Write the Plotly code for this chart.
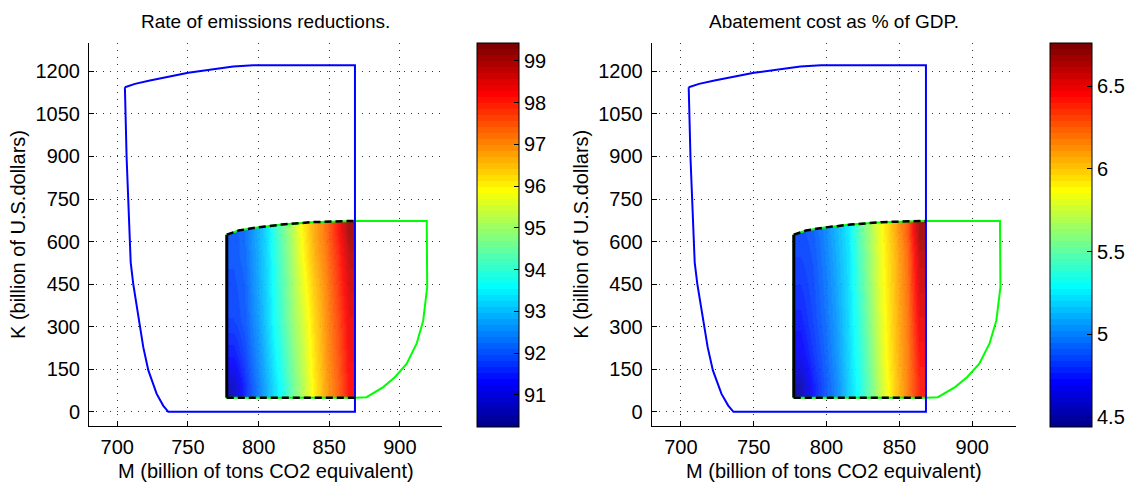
import plotly.graph_objects as go

# ---- data -----------------------------------------------------------------
# grid of the feasible set (cell edges)
m_edges = [778, 786.2, 794.4, 802.5, 810.7, 818.9, 827.1, 835.3, 843.5, 851.6, 859.8, 868]
k_edges = [50, 140, 260, 380, 500, 600, 673]

# rate of emissions reductions (%) on that grid, rows from low K to high K
rate_z = [
    [90.8, 91.6, 92.3, 92.95, 93.6, 94.4, 95.2, 96.1, 96.8, 97.4, 98.2],
    [91.4, 91.85, 92.45, 93.1, 93.8, 94.6, 95.35, 96.2, 96.9, 97.5, 98.3],
    [91.8, 92.05, 92.6, 93.25, 94.0, 94.8, 95.5, 96.3, 96.95, 97.6, 98.4],
    [91.9, 92.1, 92.7, 93.3, 94.1, 94.9, 95.7, 96.45, 97.05, 97.75, 98.6],
    [92.0, 92.2, 92.75, 93.35, 94.2, 95.0, 95.9, 96.65, 97.2, 97.9, 98.8],
    [92.0, 92.25, 92.8, 93.4, 94.3, 95.1, 96.0, 96.75, 97.3, 98.1, 99.1],
]

# abatement cost as % of GDP on the same grid
cost_z = [
    [4.54, 4.74, 4.88, 5.01, 5.18, 5.35, 5.56, 5.80, 6.00, 6.18, 6.40],
    [4.68, 4.80, 4.91, 5.04, 5.20, 5.38, 5.60, 5.83, 6.02, 6.19, 6.45],
    [4.75, 4.84, 4.94, 5.06, 5.21, 5.41, 5.63, 5.85, 6.03, 6.20, 6.50],
    [4.80, 4.86, 4.96, 5.08, 5.22, 5.44, 5.66, 5.87, 6.04, 6.22, 6.55],
    [4.84, 4.88, 4.98, 5.10, 5.23, 5.47, 5.68, 5.88, 6.05, 6.23, 6.60],
    [4.86, 4.90, 5.00, 5.12, 5.25, 5.50, 5.70, 5.90, 6.08, 6.28, 6.68],
]

# viability kernel boundary (blue)
blue_m = [705.4, 712.5, 723.1, 750.2, 782.0, 796.2, 868.2, 868.2, 736.1, 732.5, 727.9,
          722.0, 718.4, 714.9, 711.3, 709.5, 706.6, 705.4]
blue_k = [1144, 1156, 1168, 1195, 1217.5, 1222, 1222, 0, 0, 22, 63,
          146, 228, 334, 451, 527, 898, 1144]

# top edge of the computed set
top_m = [777.5, 786.0, 797.6, 816.5, 837.7, 868.0]
top_k = [624, 639, 649, 660, 668.6, 673]

# second boundary (green)
green_m = top_m + [919.0, 919.3, 916.5, 911.8, 904.7, 896.4, 888.2, 876.4, 868.0, 777.5, 777.5]
green_k = top_k + [673, 439, 322, 240, 169, 122, 87, 51.5, 50, 50, 624]

rate_ticks = [91, 92, 93, 94, 95, 96, 97, 98, 99]
cost_ticks = [4.5, 5, 5.5, 6, 6.5]
m_ticks = [700, 750, 800, 850, 900]
k_ticks = [0, 150, 300, 450, 600, 750, 900, 1050, 1200]


# ---- MATLAB-style jet(64), as a stepped colorscale --------------------------
def jet_steps(n=64):
    m = 16
    u = [i / m for i in range(1, m + 1)] + [1.0] * (m - 1) + [i / m for i in range(m, 0, -1)]
    rows = [[0.0, 0.0, 0.0] for _ in range(n)]
    for j, val in enumerate(u, start=1):
        g = 8 + j
        r = g + m
        b = g - m
        if 1 <= r <= n:
            rows[r - 1][0] = val
        if 1 <= g <= n:
            rows[g - 1][1] = val
        if 1 <= b <= n:
            rows[b - 1][2] = val
    scale = []
    for i, (r, g, b) in enumerate(rows):
        col = f"rgb({round(r * 255)},{round(g * 255)},{round(b * 255)})"
        scale.append([i / n, col])
        scale.append([(i + 1) / n, col])
    return scale


JET = jet_steps()
W, H = 1132, 484
FONT = "Liberation Sans, Arial, Helvetica, sans-serif"
FS = 20
FS_TITLE = 19

# pixel geometry of the two panels
ax_top, ax_bot = 43, 426
panels = [
    dict(left=89, right=442.3, cb_left=477, z=rate_z, zmin=90.23, zmax=99.43,
         ticks=rate_ticks, title="Rate of emissions reductions."),
    dict(left=651.7, right=1016, cb_left=1050, z=cost_z, zmin=4.44, zmax=6.76,
         ticks=cost_ticks, title="Abatement cost as % of GDP."),
]

fig = go.Figure()
annotations = []

for idx, p in enumerate(panels, start=1):
    xa = "x" if idx == 1 else f"x{idx}"
    ya = "y" if idx == 1 else f"y{idx}"

    fig.add_trace(go.Heatmap(
        x=m_edges, y=k_edges, z=p["z"], zmin=p["zmin"], zmax=p["zmax"],
        colorscale=JET, zsmooth="best", opacity=0.92, hoverinfo="skip",
        xaxis=xa, yaxis=ya,
        colorbar=dict(
            x=p["cb_left"] / W, xanchor="left", xpad=0,
            y=1 - (ax_top + ax_bot + 1) / 2 / H, yanchor="middle", ypad=0,
            len=(ax_bot + 1 - ax_top) / H, lenmode="fraction",
            thickness=42, thicknessmode="pixels",
            outlinecolor="black", outlinewidth=1,
            ticks="inside", ticklen=5, tickcolor="black",
            ticklabelposition="outside",
            tickvals=p["ticks"], tickfont=dict(family=FONT, size=FS, color="black"),
        ),
    ))

    # white cover above the curved top edge of the computed set
    fig.add_trace(go.Scatter(
        x=top_m + [868.0, 777.5], y=top_k + [690, 690],
        fill="toself", fillcolor="white", mode="none", hoverinfo="skip",
        xaxis=xa, yaxis=ya,
    ))

    fig.add_trace(go.Scatter(
        x=green_m, y=green_k, mode="lines", line=dict(color="#00ff00", width=2),
        hoverinfo="skip", xaxis=xa, yaxis=ya,
    ))
    fig.add_trace(go.Scatter(
        x=blue_m, y=blue_k, mode="lines", line=dict(color="#0000ff", width=2),
        hoverinfo="skip", xaxis=xa, yaxis=ya,
    ))
    # black edges of the computed set
    fig.add_trace(go.Scatter(
        x=top_m, y=top_k, mode="lines",
        line=dict(color="black", width=2.5, dash="7px,4px"),
        hoverinfo="skip", xaxis=xa, yaxis=ya,
    ))
    fig.add_trace(go.Scatter(
        x=[777.5, 868.0], y=[50, 50], mode="lines",
        line=dict(color="black", width=2.5, dash="7px,4px"),
        hoverinfo="skip", xaxis=xa, yaxis=ya,
    ))
    fig.add_trace(go.Scatter(
        x=[777.5, 777.5], y=[50, 624], mode="lines",
        line=dict(color="black", width=3),
        hoverinfo="skip", xaxis=xa, yaxis=ya,
    ))

    axis_common = dict(
        showline=True, linecolor="black", linewidth=1, mirror=False,
        ticks="inside", ticklen=5, tickcolor="black",
        showgrid=True, gridcolor="#333333", gridwidth=1, griddash="1px,6px",
        zeroline=False, tickfont=dict(family=FONT, size=FS, color="black"),
    )
    fig.update_layout({
        ("xaxis" if idx == 1 else f"xaxis{idx}"): dict(
            axis_common, domain=[p["left"] / W, p["right"] / W], range=[680, 930],
            tickvals=m_ticks, anchor=ya, ticklabelstandoff=3,
        ),
        ("yaxis" if idx == 1 else f"yaxis{idx}"): dict(
            axis_common, domain=[1 - ax_bot / H, 1 - ax_top / H], range=[-50, 1300],
            tickvals=k_ticks, anchor=xa, ticklabelstandoff=4,
        ),
    })

    cx = (p["left"] + p["right"]) / 2 / W
    annotations += [
        dict(text=p["title"], x=cx, y=1 - 21 / H, xref="paper", yref="paper",
             showarrow=False, xanchor="center", yanchor="middle",
             font=dict(family=FONT, size=FS_TITLE, color="black")),
        dict(text="M (billion of tons CO2 equivalent)", x=cx, y=1 - 471 / H,
             xref="paper", yref="paper", showarrow=False,
             xanchor="center", yanchor="middle",
             font=dict(family=FONT, size=FS, color="black")),
        dict(text="K (billion of U.S.dollars)", x=(p["left"] - 71.5) / W,
             y=1 - (ax_top + ax_bot) / 2 / H, xref="paper", yref="paper",
             showarrow=False, textangle=-90, xanchor="center", yanchor="middle",
             font=dict(family=FONT, size=FS, color="black")),
    ]

fig.update_layout(
    width=W, height=H, margin=dict(l=0, r=0, t=0, b=0),
    paper_bgcolor="white", plot_bgcolor="white", showlegend=False,
    annotations=annotations,
)

fig.write_html("out.html")
